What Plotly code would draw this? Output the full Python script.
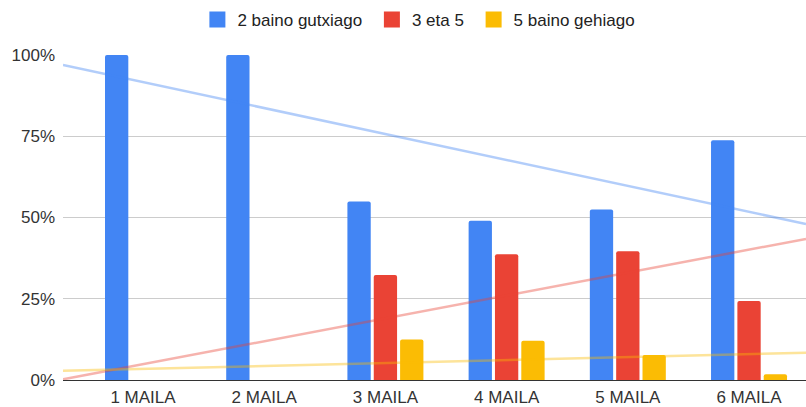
import numpy as np
import plotly.graph_objects as go

categories = ["1 MAILA", "2 MAILA", "3 MAILA", "4 MAILA", "5 MAILA", "6 MAILA"]
less_than_2 = [100, 100, 54.9, 49.0, 52.5, 73.8]
three_to_five = [0, 0, 32.3, 38.7, 39.6, 24.3]
more_than_5 = [0, 0, 12.5, 12.1, 7.7, 1.8]
series_names = ["2 baino gutxiago", "3 eta 5", "5 baino gehiago"]
colors = ["#4285F4", "#EA4335", "#FBBC04"]
y_ticks = [0, 25, 50, 75, 100]
y_tick_labels = ["0%", "25%", "50%", "75%", "100%"]

x = np.arange(1, len(categories) + 1)
x_range = [0.34, 6.47]

FONT = "Liberation Sans, Arial, sans-serif"

fig = go.Figure()
all_series = [less_than_2, three_to_five, more_than_5]
for name, vals, col in zip(series_names, all_series, colors):
    fig.add_trace(go.Bar(x=x, y=vals, name=name, marker_color=col,
                         marker_line_width=0, legendgroup=name,
                         showlegend=False))

# linear trendlines fitted to each series
for name, vals, col in zip(series_names, all_series, colors):
    slope, intercept = np.polyfit(x, vals, 1)
    xs = np.array(x_range)
    fig.add_trace(go.Scatter(x=xs, y=slope * xs + intercept, mode="lines",
                             line=dict(color=col, width=2.5), opacity=0.4,
                             showlegend=False, hoverinfo="skip"))

# legend entries (square swatches)
for i, (name, col) in enumerate(zip(series_names, colors)):
    label = name + ("\u00a0" if i < len(series_names) - 1 else "")
    fig.add_trace(go.Scatter(x=[None], y=[None], mode="markers", name=label,
                             legendgroup=name,
                             marker=dict(symbol="square", size=16, color=col)))

fig.update_layout(
    width=806, height=407,
    margin=dict(l=63, r=0, t=55, b=27),
    paper_bgcolor="white", plot_bgcolor="white",
    font=dict(family=FONT, size=17, color="#333333"),
    barmode="group", bargap=0.348, bargroupgap=0.115, barcornerradius=2,
    legend=dict(orientation="h", x=0.479, xanchor="center",
                yref="container", y=0.951, yanchor="middle",
                font=dict(size=17, color="#222222")),
    showlegend=True,
)
fig.update_xaxes(range=x_range, tickvals=list(x), ticktext=categories,
                 showgrid=False, zeroline=False, showline=True,
                 linecolor="#333333", linewidth=1, ticks="",
                 ticklabelstandoff=2)
fig.update_yaxes(range=[0, 100], tickvals=y_ticks, ticktext=y_tick_labels,
                 showgrid=True, gridcolor="#cccccc", gridwidth=1,
                 zeroline=False, ticks="", ticklabelstandoff=7)

fig.write_html("out.html", config={"displayModeBar": False},
               post_script="document.body.style.margin='0';")
